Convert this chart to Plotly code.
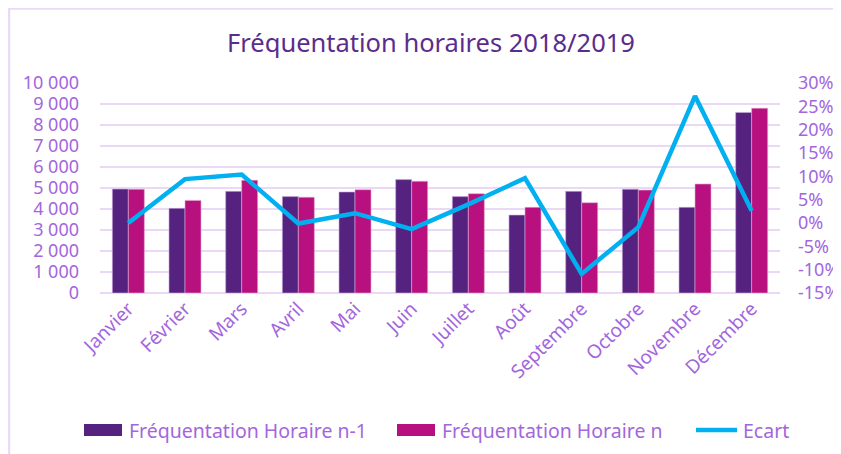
import plotly.graph_objects as go

months = ["Janvier", "Février", "Mars", "Avril", "Mai", "Juin", "Juillet",
          "Août", "Septembre", "Octobre", "Novembre", "Décembre"]
freq_n1 = [4950, 4030, 4840, 4590, 4810, 5400, 4590, 3710, 4840, 4940, 4080, 8600]
freq_n = [4940, 4410, 5370, 4560, 4920, 5320, 4730, 4080, 4300, 4900, 5190, 8800]
ecart = [0.000, 0.094, 0.104, -0.001, 0.021, -0.013, 0.040, 0.096, -0.109, -0.009, 0.272, 0.026]

series_names = ["Fréquentation Horaire n-1", "Fréquentation Horaire n", "Ecart"]

left_vals = [0, 1000, 2000, 3000, 4000, 5000, 6000, 7000, 8000, 9000, 10000]
left_text = ["0", "1 000", "2 000", "3 000", "4 000", "5 000", "6 000", "7 000", "8 000", "9 000", "10 000"]
right_vals = [-0.15, -0.10, -0.05, 0, 0.05, 0.10, 0.15, 0.20, 0.25, 0.30]
right_text = ["-15%", "-10%", "-5%", "0%", "5%", "10%", "15%", "20%", "25%", "30%"]

C_N1, C_N, C_EC = "#55237f", "#b8117f", "#00b0f0"

# page has an 8px body margin; figure fills the rest of the window
OFF = 8
W, H = 841 - OFF, 454 - OFF
ML, MR, MT, MB = 100 - OFF, 61, 83 - OFF, 161
FONT = "Noto Sans"
TICK_COLOR = "#a366dd"
GRID = "#ead8f6"
FS = 18

fig = go.Figure()
fig.add_trace(go.Bar(x=months, y=freq_n1, name=series_names[0], showlegend=False,
                     marker=dict(color=C_N1, line=dict(color="#c9a9e0", width=0.6))))
fig.add_trace(go.Bar(x=months, y=freq_n, name=series_names[1], showlegend=False,
                     marker=dict(color=C_N, line=dict(color="#e0a9d0", width=0.6))))
fig.add_trace(go.Scatter(x=months, y=ecart, name=series_names[2], yaxis="y2", mode="lines",
                         showlegend=False, line=dict(color=C_EC, width=4.5)))

pw = W - ML - MR
ph = H - MT - MB
def px_x(p):  # p in window pixels
    return (p - OFF - ML) / pw
def px_y(p):
    return (H - MB - (p - OFF)) / ph

shapes = [
    dict(type="line", xref="paper", yref="paper", x0=px_x(9), x1=px_x(9), y0=px_y(8), y1=px_y(470),
         line=dict(color="#ecd9f7", width=2.5)),
    dict(type="line", xref="paper", yref="paper", x0=px_x(8), x1=px_x(850), y0=px_y(8.5), y1=px_y(8.5),
         line=dict(color="#ecd9f7", width=2.5)),
]

# custom legend (wide swatches as in the reference)
leg_y = 430
leg_sw = [(84, 122), (397, 435), (696, 737)]
leg_tx = [127, 440, 741]
shapes.append(dict(type="rect", xref="paper", yref="paper", x0=px_x(leg_sw[0][0]), x1=px_x(leg_sw[0][1]),
                   y0=px_y(leg_y - 6), y1=px_y(leg_y + 6), fillcolor=C_N1, line=dict(width=0)))
shapes.append(dict(type="rect", xref="paper", yref="paper", x0=px_x(leg_sw[1][0]), x1=px_x(leg_sw[1][1]),
                   y0=px_y(leg_y - 6), y1=px_y(leg_y + 6), fillcolor=C_N, line=dict(width=0)))
shapes.append(dict(type="line", xref="paper", yref="paper", x0=px_x(leg_sw[2][0]), x1=px_x(leg_sw[2][1]),
                   y0=px_y(leg_y), y1=px_y(leg_y), line=dict(color=C_EC, width=4.5)))
annotations = [
    dict(text=series_names[i], xref="paper", yref="paper", x=px_x(leg_tx[i]), y=px_y(leg_y),
         xanchor="left", yanchor="middle", showarrow=False,
         font=dict(family=FONT, size=19.5, color=TICK_COLOR))
    for i in range(3)
]

fig.update_layout(
    width=W, height=H,
    margin=dict(l=ML, r=MR, t=MT, b=MB, autoexpand=False),
    paper_bgcolor="white", plot_bgcolor="white",
    font=dict(family=FONT, color=TICK_COLOR, size=FS),
    title=dict(text="Fréquentation horaires 2018/2019", x=px_x(431), xanchor="center", xref="paper",
               y=1 - (43 - OFF) / H, yanchor="middle",
               font=dict(family=FONT, size=25.5, color="#5b2c8c")),
    barmode="group", bargap=0.435, bargroupgap=0,
    showlegend=False,
    xaxis=dict(tickangle=-45, showgrid=False, showline=False, ticks="", automargin=False,
               tickfont=dict(size=19, color=TICK_COLOR)),
    yaxis=dict(range=[0, 10000], tickvals=left_vals, ticktext=left_text, automargin=False,
               gridcolor=GRID, gridwidth=1.5, zeroline=True, zerolinecolor=GRID, zerolinewidth=1.5,
               showline=False, ticks="", ticklabelstandoff=20,
               tickfont=dict(size=FS, color=TICK_COLOR)),
    yaxis2=dict(range=[-0.15, 0.30], tickvals=right_vals, ticktext=right_text, automargin=False,
                overlaying="y", side="right", showgrid=False, zeroline=False,
                showline=False, ticks="", ticklabelstandoff=17,
                tickfont=dict(size=FS, color=TICK_COLOR)),
    shapes=shapes,
    annotations=annotations,
)

fig.write_html("out.html")
